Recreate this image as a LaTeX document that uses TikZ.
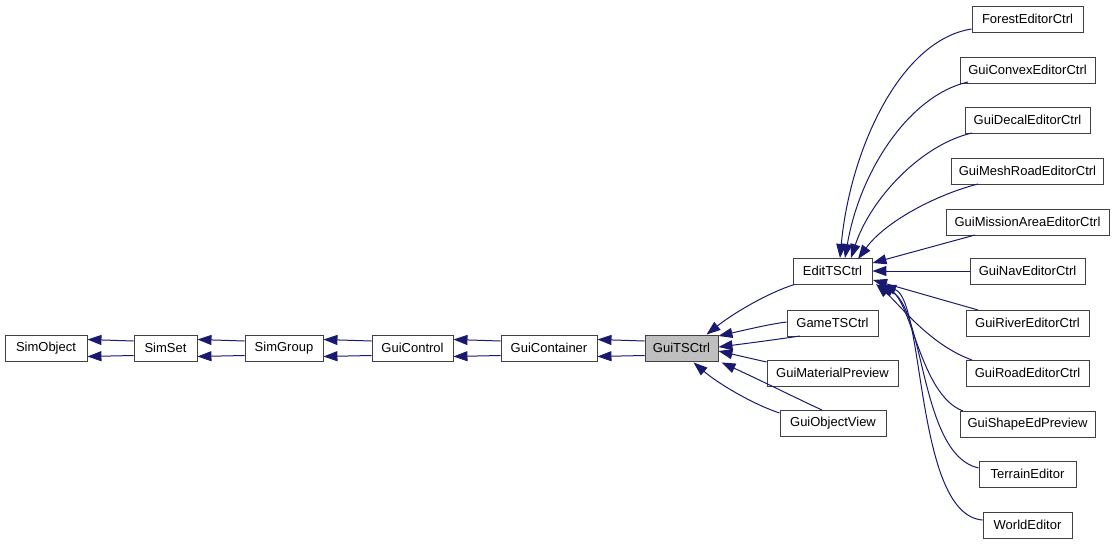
\documentclass[tikz,border=0pt]{standalone}
\usepackage{fontspec}
\setmainfont{Liberation Sans}
\usepackage{xcolor}
\usepackage{tikz}
\usetikzlibrary{positioning, arrows.meta, calc}

\definecolor{edgeblue}{HTML}{191970}

\begin{document}
\begin{tikzpicture}[x=1pt, y=-1pt,
        cls/.style={draw=black!75, line width=0.9pt, minimum height=26pt, inner sep=0pt,
            font=\fontsize{13}{15}\selectfont},
        inh/.style={draw=edgeblue, line width=1pt, {Triangle[length=14pt,width=10pt]}-}]
        \useasboundingbox (0,0) rectangle (1115,544);

        % Base chain
        \node[cls, minimum width=82] (SimObject) at (46,348) {SimObject};
        \node[cls, minimum width=63] (SimSet) at (165.5,348) {SimSet};
        \node[cls, minimum width=78] (SimGroup) at (284,348) {SimGroup};
        \node[cls, minimum width=81] (GuiControl) at (412.5,348) {GuiControl};
        \node[cls, minimum width=96] (GuiContainer) at (549,348) {GuiContainer};
        \node[cls, minimum width=73, fill=black!25] (GuiTSCtrl) at (681.5,348) {GuiTSCtrl};

        % Middle column
        \node[cls, minimum width=79] (EditTSCtrl) at (832.5,271) {EditTSCtrl};
        \node[cls, minimum width=91] (GameTSCtrl) at (832.5,323) {GameTSCtrl};
        \node[cls, minimum width=131] (GuiMaterialPreview) at (832.5,373) {GuiMaterialPreview};
        \node[cls, minimum width=106] (GuiObjectView) at (833,423) {GuiObjectView};

        % Editor column
        \foreach \name/\y/\w in {ForestEditorCtrl/19/111, GuiConvexEditorCtrl/70/135,
            GuiDecalEditorCtrl/120/125, GuiMeshRoadEditorCtrl/171/152,
            GuiMissionAreaEditorCtrl/222/163, GuiNavEditorCtrl/271/115,
            GuiRiverEditorCtrl/323/123, GuiRoadEditorCtrl/373/123,
            GuiShapeEdPreview/424/135, TerrainEditor/474/97, WorldEditor/525/89} {
            \node[cls, minimum width=\w] (\name) at (1027.5,\y) {\name};
        }

        % Double edges along the chain
        \foreach \parent/\child in {SimObject/SimSet, SimSet/SimGroup, SimGroup/GuiControl,
            GuiControl/GuiContainer, GuiContainer/GuiTSCtrl} {
            \draw[inh] (\parent.east |- 0,339.5) -- (\child.west |- 0,341);
            \draw[inh] (\parent.east |- 0,356.5) -- (\child.west |- 0,355.5);
        }

        % Edges into GuiTSCtrl
        \draw[inh] ($(GuiTSCtrl.north east)+(-12,0)$) .. controls (735,312) and (770,292) .. ($(EditTSCtrl.south west)+(2,0)$);
        \draw[inh] (GuiTSCtrl.east |- 0,336) .. controls (745,330) and (770,324) .. (GameTSCtrl.west |- 0,322);
        \draw[inh] (GuiTSCtrl.east |- 0,347) .. controls (750,343) and (780,339) .. (800,336);
        \draw[inh] (GuiTSCtrl.east |- 0,351) -- (GuiMaterialPreview.west |- 0,362);
        \draw[inh] ($(GuiTSCtrl.south east)+(3,1)$) .. controls (760,380) and (800,400) .. (822,410);
        \draw[inh] ($(GuiTSCtrl.south)+(12,1)$) .. controls (720,385) and (755,405) .. (GuiObjectView.west |- 0,413);

        % Edges into EditTSCtrl from above
        \draw[inh] (840,258) .. controls (850,150) and (900,40) .. (ForestEditorCtrl.west |- 0,29);
        \draw[inh] (845,258) .. controls (860,170) and (910,95) .. (968,82);
        \draw[inh] (851,258) .. controls (870,200) and (920,145) .. (972,133);
        \draw[inh] (858,259) .. controls (885,222) and (935,195) .. (978,184);
        \draw[inh] (EditTSCtrl.east |- 0,263) -- (975,235);
        \draw[inh] (EditTSCtrl.east) -- (GuiNavEditorCtrl.west);

        % Edges into EditTSCtrl from below
        \draw[inh] (873,280) -- (978,310);
        \draw[inh] (876,284) .. controls (900,305) and (930,345) .. (972,360);
        \draw[inh] (878,285) .. controls (912,300) and (920,395) .. (963,411);
        \draw[inh] (880,285) .. controls (925,310) and (920,455) .. (TerrainEditor.west |- 0,468);
        \draw[inh] (882,285) .. controls (925,300) and (915,515) .. (WorldEditor.west |- 0,520);
    \end{tikzpicture}
\end{document}
